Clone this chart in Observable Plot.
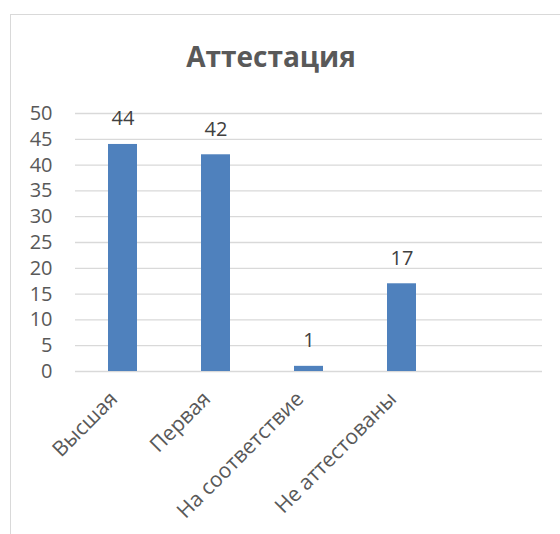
<!DOCTYPE html>
<html>
<head>
<meta charset="utf-8">
<script src="https://cdn.jsdelivr.net/npm/d3@7"></script>
<script src="https://cdn.jsdelivr.net/npm/@observablehq/plot@0.6"></script>
<style>
  html, body { margin: 0; padding: 0; background: #fff; }
  #wrap { position: relative; width: 560px; height: 534px; overflow: hidden; font-family: "Open Sans", sans-serif; }
  #frame { position: absolute; left: 10px; top: 14px; width: 600px; height: 600px; border-left: 1.3px solid #d9d9d9; border-top: 1.3px solid #d9d9d9; box-sizing: border-box; }
  #title { position: relative; height: 90px; width: 542px; box-sizing: border-box; padding-top: 37px; line-height: 38px; text-align: center; font-size: 28px; font-weight: bold; color: #595959; }
  #chart { position: relative; }
</style>
</head>
<body>
<div id="wrap">
  <div id="frame"></div>
  <div id="title">Аттестация</div>
  <div id="chart"></div>
</div>
<script>
const categories = ["Высшая", "Первая", "На соответствие", "Не аттестованы", " "];
const values = [44, 42, 1, 17];
const yTicks = [0, 5, 10, 15, 20, 25, 30, 35, 40, 45, 50];

const data = values.map((v, i) => ({category: categories[i], value: v}));

const chart = Plot.plot({
  width: 560,
  height: 444,
  marginTop: 23,
  marginBottom: 163,
  marginLeft: 75,
  marginRight: 18,
  style: {fontFamily: "Open Sans, sans-serif", fontSize: "20px", color: "#595959", background: "transparent"},
  x: {domain: categories, paddingInner: 0.69, paddingOuter: 0.345, label: null},
  y: {domain: [0, 50], label: null},
  marks: [
    Plot.gridY(yTicks, {stroke: "#d9d9d9", strokeOpacity: 1, strokeWidth: 1.3}),
    Plot.axisY({ticks: yTicks, tickSize: 0, tickPadding: 23, label: null, fill: "#595959", fontSize: 20}),
    Plot.axisX({tickSize: 0, tickPadding: 24, tickRotate: -45, dx: -9, label: null, fill: "#595959", fontSize: 21}),
    Plot.barY(data, {x: "category", y: "value", fill: "#4f81bd"}),
    Plot.text(data, {x: "category", y: "value", text: d => String(d.value), lineAnchor: "bottom", dy: -19, fill: "#404040", fontSize: 20})
  ]
});
document.getElementById("chart").appendChild(chart);
</script>
</body>
</html>
